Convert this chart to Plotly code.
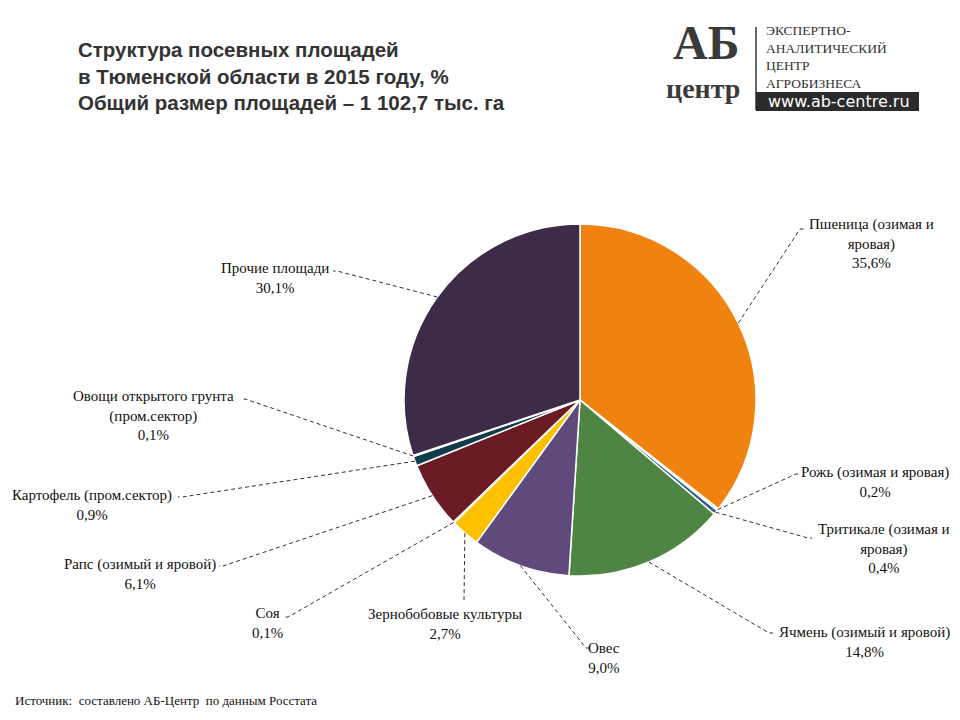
import math
import plotly.graph_objects as go

# ---- data ----
labels = ["Пшеница (озимая и<br>яровая)", "Рожь (озимая и яровая)", "Тритикале (озимая и<br>яровая)",
          "Ячмень (озимый и яровой)", "Овес", "Зернобобовые культуры", "Соя",
          "Рапс (озимый и яровой)", "Картофель (пром.сектор)", "Овощи открытого грунта<br>(пром.сектор)",
          "Прочие площади"]
values = [35.6, 0.2, 0.4, 14.8, 9.0, 2.7, 0.1, 6.1, 0.9, 0.1, 30.1]
value_text = ["35,6%", "0,2%", "0,4%", "14,8%", "9,0%", "2,7%", "0,1%", "6,1%", "0,9%", "0,1%", "30,1%"]
colors = ["#F0830F", "#FBEBB5", "#2E5F8A", "#4E8542", "#5F4A7B", "#FFC000", "#F3E3A0",
          "#6A1B23", "#103C4C", "#FFFFFF", "#3D2B48"]

# label layout (pixel positions: text center x, first-line center y, leader end x,y, tick direction)
label_pos = [
    (871, 224, 800, 229, 1),
    (875, 472, 796, 474, 1),
    (884, 529, 808, 538, 1),
    (864, 632, 769, 633, 1),
    (604, 648, 586, 648, 1),
    (445, 614, 464, 601, 0),
    (267, 613, 288, 617, -1),
    (140, 564, 223, 566, -1),
    (92, 495, 182, 497, -1),
    (153, 396, 245, 399, -1),
    (275, 268, 337, 271, -1),
]

W, H = 960, 720
CX, CY, R = 580, 400, 176
SERIF = "Liberation Serif, Times New Roman, DejaVu Serif, serif"

fig = go.Figure()
fig.add_trace(go.Pie(
    labels=[l.replace("<br>", " ") for l in labels], values=values, sort=False, direction="clockwise",
    rotation=0, marker=dict(colors=colors, line=dict(color="white", width=1.5)),
    textinfo="none", hoverinfo="label+percent", showlegend=False,
    domain=dict(x=[(CX - R) / W, (CX + R) / W], y=[(H - CY - R) / H, (H - CY + R) / H]),
))

def px(x, y):
    return x / W, 1 - y / H

shapes = []
annotations = []
total = sum(values)
cum = 0.0
for i, v in enumerate(values):
    mid = (cum + v / 2) / total * 2 * math.pi
    cum += v
    sx = CX + R * math.sin(mid)
    sy = CY - R * math.cos(mid)
    tx, ty, ex, ey, d = label_pos[i]
    path = f"M {sx/W:.5f},{1-sy/H:.5f} L {ex/W:.5f},{1-ey/H:.5f}"
    if d != 0:
        path += f" L {(ex + 4*d)/W:.5f},{1-ey/H:.5f}"
    shapes.append(dict(type="path", xref="paper", yref="paper", path=path,
                       line=dict(color="#333333", width=1, dash="4px,3px")))
    ax, ay = px(tx, ty - 10)
    annotations.append(dict(x=ax, y=ay, xref="paper", yref="paper", xanchor="center", yanchor="top",
                            text=labels[i] + "<br>" + value_text[i], showarrow=False, align="center",
                            font=dict(family=SERIF, size=15, color="#111111")))

# title
annotations.append(dict(x=76 / W, y=1 - 36 / H, xref="paper", yref="paper", xanchor="left", yanchor="top",
                        text="<b>Структура посевных площадей<br>в Тюменской области в 2015 году, %<br>"
                             "Общий размер площадей – 1 102,7 тыс. га</b>",
                        showarrow=False, align="left",
                        font=dict(family="Liberation Sans", size=20.5, color="#333333")))
# source
annotations.append(dict(x=13 / W, y=1 - 700 / H, xref="paper", yref="paper", xanchor="left", yanchor="middle",
                        text="Источник:  составлено АБ-Центр  по данным Росстата", showarrow=False,
                        font=dict(family=SERIF, size=13, color="#111111")))

# logo
annotations.append(dict(x=706 / W, y=1 - 42 / H, xref="paper", yref="paper", xanchor="center", yanchor="middle",
                        text="<b>АБ</b>", showarrow=False,
                        font=dict(family=SERIF, size=48, color="#3a3a3a")))
annotations.append(dict(x=703 / W, y=1 - 88 / H, xref="paper", yref="paper", xanchor="center", yanchor="middle",
                        text="<b>центр</b>", showarrow=False,
                        font=dict(family=SERIF, size=28, color="#3a3a3a")))
annotations.append(dict(x=764 / W, y=1 - 57 / H, xref="paper", yref="paper", xanchor="left", yanchor="middle",
                        text="ЭКСПЕРТНО-<br>АНАЛИТИЧЕСКИЙ<br>ЦЕНТР<br>АГРОБИЗНЕСА", showarrow=False,
                        align="left", font=dict(family=SERIF, size=13.5, color="#333333")))
shapes.append(dict(type="line", xref="paper", yref="paper", x0=756 / W, x1=756 / W, y0=1 - 27 / H, y1=1 - 110 / H,
                   line=dict(color="#333333", width=1.5)))
shapes.append(dict(type="rect", xref="paper", yref="paper", x0=756 / W, x1=919 / W, y0=1 - 92 / H, y1=1 - 111 / H,
                   fillcolor="#2b2b2b", line=dict(width=0)))
annotations.append(dict(x=839 / W, y=1 - 101.5 / H, xref="paper", yref="paper", xanchor="center", yanchor="middle",
                        text="www.ab-centre.ru", showarrow=False,
                        font=dict(family="DejaVu Sans", size=16, color="white")))

fig.update_layout(width=W, height=H, margin=dict(l=0, r=0, t=0, b=0), paper_bgcolor="white",
                  plot_bgcolor="white", shapes=shapes, annotations=annotations)
fig.write_html("out.html")
